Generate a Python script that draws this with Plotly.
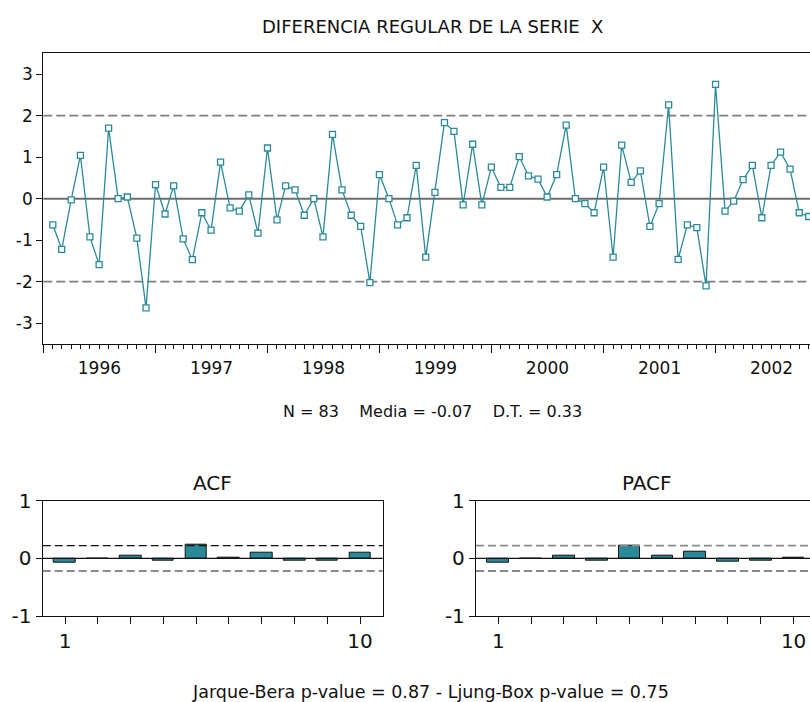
import plotly.graph_objects as go
import pandas as pd

# ---------------- data ----------------
dates = pd.date_range("1996-02-01", periods=83, freq="MS")
diff_x = [
    -0.63, -1.22, -0.03, 1.04, -0.92, -1.59, 1.70, 0.00, 0.04, -0.95, -2.63,
    0.34, -0.37, 0.31, -0.97, -1.47, -0.34, -0.76, 0.88, -0.22, -0.30, 0.09, -0.83,
    1.22, -0.51, 0.31, 0.21, -0.40, 0.00, -0.92, 1.55, 0.21, -0.40, -0.67, -2.02,
    0.58, 0.00, -0.63, -0.46, 0.80, -1.41, 0.15, 1.83, 1.62, -0.15, 1.31, -0.15,
    0.76, 0.27, 0.27, 1.01, 0.55, 0.47, 0.04, 0.58, 1.77, 0.00, -0.12, -0.34,
    0.76, -1.41, 1.29, 0.39, 0.67, -0.67, -0.12, 2.26, -1.46, -0.63, -0.70, -2.10,
    2.75, -0.30, -0.06, 0.46, 0.80, -0.46, 0.80, 1.12, 0.71, -0.34, -0.43, -0.40,
]
lags = list(range(1, 11))
acf_vals = [-0.07, -0.005, 0.05, -0.035, 0.23, 0.015, 0.10, -0.045, -0.035, 0.09]
pacf_vals = [-0.08, -0.005, 0.05, -0.035, 0.22, 0.04, 0.11, -0.06, -0.045, 0.015]
conf_band = 0.2195
main_yticks = [-3, -2, -1, 0, 1, 2, 3]
main_ytext = ["-3", "-2", "-1", "0", "1", "2", "3"]
cf_yticks = [-1, 0, 1]
cf_ytext = ["-1", "0", "1"]
lag_text = ["1", "", "", "", "", "", "", "", "", "10"]
title_text = "DIFERENCIA REGULAR DE LA SERIE  X"
stats_text = "N = 83    Media = -0.07    D.T. = 0.33"
tests_text = "Jarque-Bera p-value = 0.87 - Ljung-Box p-value = 0.75"

# ---------------- style ----------------
W, H = 810, 702
TEAL = "#2B8A9A"
FONT = "DejaVu Sans, Arial, sans-serif"
INK = "#111111"

def px_x(p):
    return p / W

def px_y(p):
    return 1 - p / H

fig = go.Figure()

fig.add_trace(go.Scatter(
    x=dates, y=diff_x, mode="lines",
    line=dict(color=TEAL, width=1.3),
    xaxis="x", yaxis="y", showlegend=False,
))
fig.add_trace(go.Scatter(
    x=dates, y=diff_x, mode="markers",
    marker=dict(symbol="square", size=6, color="white",
                line=dict(color=TEAL, width=1.3)),
    xaxis="x", yaxis="y", showlegend=False, hoverinfo="skip",
))

fig.add_trace(go.Bar(
    x=lags, y=acf_vals, width=0.66,
    marker=dict(color=TEAL, line=dict(color=INK, width=1)),
    xaxis="x2", yaxis="y2", showlegend=False,
))
fig.add_trace(go.Bar(
    x=lags, y=pacf_vals, width=0.66,
    marker=dict(color=TEAL, line=dict(color=INK, width=1)),
    xaxis="x3", yaxis="y3", showlegend=False,
))

def ax(size, **kw):
    d = dict(showgrid=False, zeroline=False, showline=True,
             linecolor=INK, linewidth=1.3, tickcolor=INK, tickwidth=1.3,
             ticks="outside", ticklabeloverflow="allow",
             tickfont=dict(family=FONT, size=size, color=INK))
    d.update(kw)
    return d

fig.update_layout(
    width=W, height=H,
    margin=dict(l=0, r=0, t=0, b=0, autoexpand=False),
    paper_bgcolor="white", plot_bgcolor="white",
    bargap=0,
    xaxis=ax(17,
        domain=[px_x(43.3), 1.0], type="date",
        range=["1996-01-01", "2002-11-05"],
        tick0="1996-01-01", dtick="M12", tickformat="%Y",
        ticklabelmode="period", ticklen=8,
        minor=dict(dtick="M1", ticks="outside", ticklen=4, tickcolor=INK),
        mirror=True, anchor="y",
    ),
    yaxis=ax(17,
        domain=[px_y(344), px_y(53.3)], range=[-3.5, 3.5],
        tickvals=main_yticks, ticktext=main_ytext, ticklen=6, anchor="x",
    ),
    xaxis2=ax(20,
        domain=[px_x(42.7), px_x(382.7)], range=[0.32, 10.69],
        tickvals=lags, ticktext=lag_text, ticklen=7, mirror=True, anchor="y2",
    ),
    yaxis2=ax(20,
        domain=[px_y(616), px_y(500.7)], range=[-1, 1],
        tickvals=cf_yticks, ticktext=cf_ytext, ticklen=6, mirror=True, anchor="x2",
    ),
    xaxis3=ax(20,
        domain=[px_x(476), 1.0], range=[0.32, 10.50],
        tickvals=lags, ticktext=lag_text, ticklen=7, mirror=True, anchor="y3",
    ),
    yaxis3=ax(20,
        domain=[px_y(616), px_y(500.7)], range=[-1, 1],
        tickvals=cf_yticks, ticktext=cf_ytext, ticklen=6, anchor="x3",
    ),
)

# reference lines
for y, dash, col, w in [(0, "solid", "#6E6E6E", 2), (2, "9px,4px", "#7F7F7F", 1.8),
                        (-2, "9px,4px", "#7F7F7F", 1.8)]:
    fig.add_shape(type="line", xref="x domain", yref="y", x0=0, x1=1, y0=y, y1=y,
                  line=dict(color=col, width=w, dash=dash), layer="below")

for xr, yr, up_col, lo_col in [("x2", "y2", INK, "#8A8A8A"),
                               ("x3", "y3", "#8A8A8A", INK)]:
    fig.add_shape(type="line", xref=f"{xr} domain", yref=yr, x0=0, x1=1, y0=0, y1=0,
                  line=dict(color=INK, width=1.2), layer="above")
    fig.add_shape(type="line", xref=f"{xr} domain", yref=yr, x0=0, x1=1,
                  y0=conf_band, y1=conf_band,
                  line=dict(color=up_col, width=1.2 if up_col == INK else 1.8,
                            dash="8px,4px"), layer="above")
    fig.add_shape(type="line", xref=f"{xr} domain", yref=yr, x0=0, x1=1,
                  y0=-conf_band, y1=-conf_band,
                  line=dict(color=lo_col, width=1.2 if lo_col == INK else 1.8,
                            dash="8px,4px"), layer="above")

# texts
def txt(s, x, y, size):
    fig.add_annotation(text=s, xref="paper", yref="paper", x=px_x(x), y=px_y(y),
                       xanchor="center", yanchor="middle", showarrow=False,
                       font=dict(family=FONT, size=size, color=INK))

txt(title_text, 432, 27, 18)
txt(stats_text, 432, 412, 16)
txt("ACF", 212.7, 483, 20)
txt("PACF", 646.5, 483, 20)
txt(tests_text, 430, 692, 17.5)

fig.write_html(
    "out.html",
    config={"displayModeBar": False},
    post_script="document.body.style.margin='0';document.body.style.padding='0';"
                "document.body.style.overflow='hidden';",
)
